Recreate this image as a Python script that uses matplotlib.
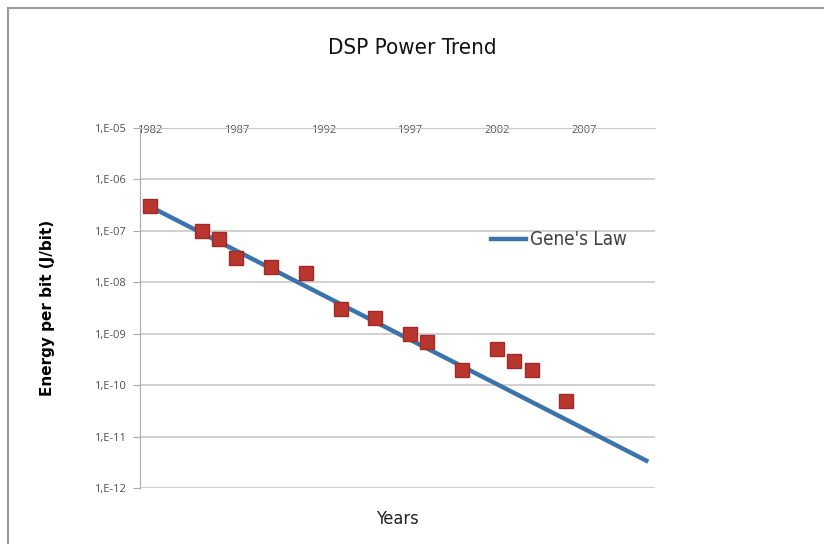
import matplotlib
matplotlib.use("Agg")
import matplotlib.pyplot as plt
from matplotlib.patches import Rectangle

# measured points (year, energy per bit in J/bit)
years = [1982, 1985, 1986, 1987, 1989, 1991, 1993, 1995, 1997, 1998, 2000, 2002, 2003, 2004, 2006]
energy = [3e-7, 1e-7, 7e-8, 3e-8, 2e-8, 1.5e-8, 3e-9, 2e-9, 1e-9, 7e-10, 2e-10, 5e-10, 3e-10, 2e-10, 5e-11]

# Gene's law trend line
law_years = [1982, 2010.6]
law_energy = [3e-7, 3.4e-12]

year_ticks = [1982, 1987, 1992, 1997, 2002, 2007]
y_ticks = [1e-5, 1e-6, 1e-7, 1e-8, 1e-9, 1e-10, 1e-11, 1e-12]
y_labels = ["1,E-05", "1,E-06", "1,E-07", "1,E-08", "1,E-09", "1,E-10", "1,E-11", "1,E-12"]

narrow = ['DejaVu Sans']
plt.rcParams['font.family'] = ['Open Sans', 'DejaVu Sans']

fig = plt.figure(figsize=(8.24, 5.44), dpi=100)
ax = fig.add_axes([140/824, 1-488/544, 515/824, 360/544])

ax.plot(law_years, law_energy, color='#3b74ad', lw=3.2, label="Gene's Law", zorder=3)
ax.plot(years, energy, ls='none', marker='s', ms=10, color='#b9362f', mec='#a02a25', zorder=4)

ax.set_yscale('log')
ax.set_ylim(1e-12, 1e-5)
ax.set_xlim(1981.45, 2011.1)
ax.set_yticks(y_ticks)
ax.set_yticklabels(y_labels)
ax.minorticks_off()
ax.yaxis.grid(True, color='#c8c8c8', lw=1.2)
ax.set_axisbelow(True)

ax.set_xticks(year_ticks)
ax.xaxis.tick_top()
ax.tick_params(axis='x', length=0, pad=-5.5, labelsize=8, labelcolor='#505050')
for lbl in ax.get_xticklabels():
    lbl.set_bbox(dict(facecolor='white', edgecolor='none', pad=1))
ax.tick_params(axis='y', length=5, color='#aaaaaa', labelsize=8, labelcolor='#505050', pad=5)

for s in ['right', 'bottom']:
    ax.spines[s].set_visible(False)
ax.spines['top'].set_color('#c8c8c8')
ax.spines['left'].set_color('#aaaaaa')

ax.set_ylabel('Energy per bit (J/bit)', fontsize=11, fontweight='bold', family=['DejaVu Sans'])
ax.yaxis.set_label_coords(-0.165, 0.5)
ax.xaxis.set_label_position('bottom')
ax.set_xlabel('Years', fontsize=13, family=narrow, stretch='condensed', color='#222222')
ax.xaxis.set_label_coords(0.499, -0.06)

leg = ax.legend(loc='center left', bbox_to_anchor=(0.648, 0.689), frameon=False,
                prop={'family': narrow, 'size': 13.5, 'stretch': 'condensed'},
                handlelength=1.9, handletextpad=0.2, labelcolor='#404040')

fig.suptitle('DSP Power Trend', x=0.5, y=1-48/544, va='center', fontsize=16,
             family=narrow, stretch='condensed', color='#111111')

fig.add_artist(Rectangle((8/824, -0.1), 2, 1-8/544+0.1, transform=fig.transFigure,
                         fill=False, edgecolor='#9a9a9a', lw=1.5))

fig.savefig('out.png', dpi=100)
